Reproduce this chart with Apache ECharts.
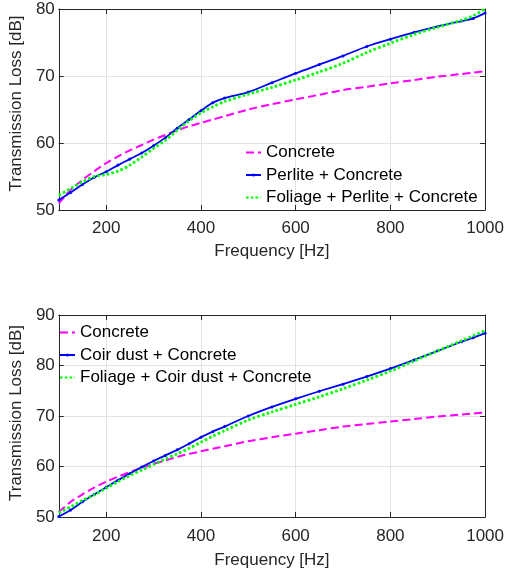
<!DOCTYPE html>
<html>
<head>
<meta charset="utf-8">
<script src="https://cdn.jsdelivr.net/npm/echarts@6/dist/echarts.min.js"></script>
<style>
html,body{margin:0;padding:0;background:#fff;}
#chart{width:507px;height:572px;}
</style>
</head>
<body>
<div id="chart"></div>
<script>
// ---- data ----
const freq = [100,125,150,175,200,225,250,275,300,325,350,375,400,425,450,500,550,600,650,700,750,800,850,900,950,975,1000];
const concrete = [51.0,53.0,54.5,55.8,57.0,58.0,58.9,59.7,60.5,61.2,61.9,62.5,63.0,63.5,64.0,65.0,65.8,66.5,67.2,67.9,68.4,68.9,69.4,69.9,70.3,70.5,70.7];
const perliteConcrete = [51.5,52.6,53.8,54.9,55.7,56.7,57.6,58.5,59.6,60.8,62.2,63.5,64.8,66.0,66.7,67.6,69.0,70.4,71.7,73.0,74.4,75.5,76.5,77.4,78.2,78.6,79.4];
const foliagePerliteConcrete = [52.2,53.2,54.2,55.0,55.3,55.8,56.7,57.9,59.2,60.4,61.9,63.3,64.5,65.4,66.2,67.3,68.3,69.4,70.6,71.9,73.5,74.9,76.2,77.3,78.3,79.0,80.0];
const coirConcrete = [50.1,51.4,53.0,54.5,55.9,57.3,58.6,59.9,61.1,62.2,63.3,64.5,65.8,66.9,67.9,70.0,71.8,73.4,74.9,76.3,77.8,79.4,81.1,82.9,84.7,85.5,86.4];
const foliageCoirConcrete = [50.8,52.0,53.3,54.4,55.7,57.0,58.2,59.3,60.4,61.5,62.5,63.6,64.8,66.0,67.1,69.2,70.8,72.3,73.8,75.4,77.1,78.9,80.9,82.9,84.9,85.9,86.9];
const xTicks = [200,400,600,800,1000];
const names1 = ['Concrete','Perlite + Concrete','Foliage + Perlite + Concrete'];
const names2 = ['Concrete','Coir dust + Concrete','Foliage + Coir dust + Concrete'];
const xName = 'Frequency [Hz]';
const yName = 'Transmission Loss [dB]';

// ---- styling ----
const FONT = '"Liberation Sans", Arial, Helvetica, sans-serif';
const TXT = '#262626';
const AX = '#262626';
const GRIDC = '#e3e3e3';
const FS = 17;

const pairs = v => freq.map((f,i)=>[f, v[i]]);

function xAxes(gi, labelMargin, nameGap) {
  return [
    { type:'value', gridIndex:gi, min:100, max:1000, interval:100, position:'bottom',
      axisLine:{show:true,onZero:false,lineStyle:{color:AX,width:1}},
      axisTick:{show:true,inside:true,length:5,customValues:xTicks,lineStyle:{color:AX}},
      axisLabel:{customValues:xTicks,color:TXT,fontFamily:FONT,fontSize:FS,margin:labelMargin,
        formatter:v=>String(v)},
      splitLine:{show:true,lineStyle:{color:GRIDC,width:1}},
      name:xName,nameLocation:'middle',nameGap:nameGap,
      nameTextStyle:{color:TXT,fontFamily:FONT,fontSize:FS}
    },
    { type:'value', gridIndex:gi, min:100, max:1000, interval:100, position:'top',
      axisLine:{show:true,onZero:false,lineStyle:{color:AX,width:1}},
      axisTick:{show:true,inside:true,length:5,customValues:xTicks,lineStyle:{color:AX}},
      axisLabel:{show:false}, splitLine:{show:false}
    }
  ];
}
function yAxes(gi, max, nameGap, pad) {
  return [
    { type:'value', gridIndex:gi, min:50, max:max, interval:10, position:'left',
      axisLine:{show:true,onZero:false,lineStyle:{color:AX,width:1}},
      axisTick:{show:true,inside:true,length:5,lineStyle:{color:AX}},
      axisLabel:{color:TXT,fontFamily:FONT,fontSize:FS,margin:4},
      splitLine:{show:true,lineStyle:{color:GRIDC,width:1}},
      name:yName,nameLocation:'middle',nameGap:nameGap,
      nameTextStyle:{color:TXT,fontFamily:FONT,fontSize:FS,padding:pad}
    },
    { type:'value', gridIndex:gi, min:50, max:max, interval:10, position:'right',
      axisLine:{show:true,onZero:false,lineStyle:{color:AX,width:1}},
      axisTick:{show:true,inside:true,length:5,lineStyle:{color:AX}},
      axisLabel:{show:false}, splitLine:{show:false}
    }
  ];
}

function mkSeries(name, vals, gi, kind) {
  const s = { name:name, type:'line', xAxisIndex:gi*2, yAxisIndex:gi*2, data:pairs(vals),
    smooth:0.3, animation:false, silent:true };
  if (kind==='dash') {
    s.symbol='none'; s.lineStyle={color:'#ff00ff',width:2,type:[8,4]}; s.itemStyle={color:'#ff00ff'}; s.z=2;
  } else if (kind==='solid') {
    s.symbol='circle'; s.symbolSize=3; s.showSymbol=true;
    s.lineStyle={color:'#0000ff',width:1.8}; s.itemStyle={color:'#0000ff'}; s.z=3;
  } else {
    s.symbol='none'; s.lineStyle={color:'#00ff00',width:2.8,type:[2.6,2.2]}; s.itemStyle={color:'#00ff00'}; s.z=4;
  }
  return s;
}
const legendData = names => [
  {name:names[0], itemStyle:{opacity:0}},
  {name:names[1]},
  {name:names[2], itemStyle:{opacity:0}}
];

const chart = echarts.init(document.getElementById('chart'), null, {renderer:'canvas'});
chart.setOption({
  backgroundColor:'#ffffff',
  animation:false,
  textStyle:{fontFamily:FONT,color:TXT},
  grid:[
    {left:53, right:19, top:9, height:201},
    {left:53, right:19, top:315, height:202}
  ],
  xAxis:[...xAxes(0,10,33), ...xAxes(1,11,35)],
  yAxis:[...yAxes(0,80,20,[0,0,0,12]), ...yAxes(1,90,20,[0,0,0,6])],
  legend:[
    { orient:'vertical', left:245, top:144, padding:0, itemWidth:15, itemHeight:4, itemGap:5.5,
      textStyle:{color:'#000',fontFamily:FONT,fontSize:FS,lineHeight:17},
      data:legendData(names1), selectedMode:false },
    { orient:'vertical', left:59, top:324, padding:0, itemWidth:15, itemHeight:4, itemGap:5.5,
      textStyle:{color:'#000',fontFamily:FONT,fontSize:FS,lineHeight:17},
      data:legendData(names2), selectedMode:false }
  ],
  series:[
    mkSeries(names1[0], concrete, 0, 'dash'),
    mkSeries(names1[1], perliteConcrete, 0, 'solid'),
    mkSeries(names1[2], foliagePerliteConcrete, 0, 'dot'),
    mkSeries(names2[0], concrete, 1, 'dash'),
    mkSeries(names2[1], coirConcrete, 1, 'solid'),
    mkSeries(names2[2], foliageCoirConcrete, 1, 'dot')
  ]
});
</script>
</body>
</html>
